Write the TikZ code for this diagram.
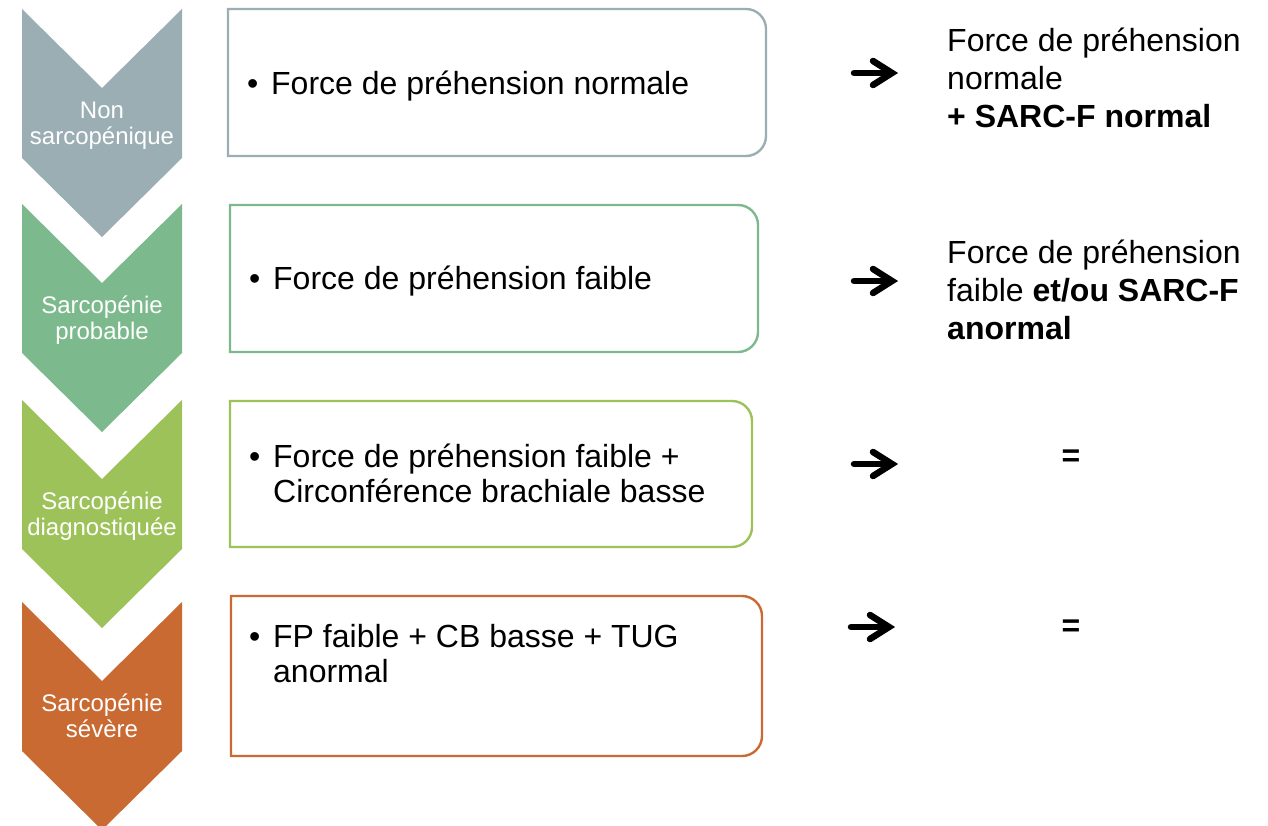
\documentclass[tikz,border=0pt]{standalone}
\usepackage{fontspec}
\setmainfont{Liberation Sans}
\definecolor{cgray}{HTML}{9BAEB4}
\definecolor{cgreen}{HTML}{7CB98C}
\definecolor{clime}{HTML}{9DC25A}
\definecolor{corange}{HTML}{C96A33}
\begin{document}
\begin{tikzpicture}[x=1pt,y=1pt,
  chevlabel/.style={text=white,align=center,inner sep=0pt,
    font=\fontsize{24}{26}\selectfont},
  boxtext/.style={anchor=base west,inner sep=0pt,
    font=\fontsize{32}{35}\selectfont},
  sidetext/.style={anchor=base west,inner sep=0pt,
    font=\fontsize{32}{38}\selectfont},
  eqtext/.style={inner sep=0pt,font=\bfseries\fontsize{32}{35}\selectfont},
  boxline/.style={line width=2.4pt},
  arrw/.style={line width=6.5pt,line cap=round,miter limit=10}]
\useasboundingbox (0,0) rectangle (1268,-826);

% chevrons
\fill[cgray]   (22,-9)   -- (102,-88)  -- (182,-9)   -- (182,-158) -- (102,-237) -- (22,-158) -- cycle;
\fill[cgreen]  (22,-204) -- (102,-283) -- (182,-204) -- (182,-353) -- (102,-432) -- (22,-353) -- cycle;
\fill[clime]   (22,-400) -- (102,-479) -- (182,-400) -- (182,-549) -- (102,-628) -- (22,-549) -- cycle;
\fill[corange] (22,-602) -- (102,-681) -- (182,-602) -- (182,-751) -- (102,-830) -- (22,-751) -- cycle;

\node[chevlabel] (c1) at (102,-126) {Non\\sarcopénique};
\node[chevlabel] (c2) at (102,-320) {Sarcopénie\\probable};
\node[chevlabel] (c3) at (102,-516) {Sarcopénie\\diagnostiquée};
\node[chevlabel] (c4) at (102,-716) {Sarcopénie\\sévère};

% boxes (square left corners, rounded right corners)
\draw[boxline,cgray]   (228,-9)   -- (746,-9)   arc[start angle=90,end angle=0,radius=20] -- (766,-136) arc[start angle=0,end angle=-90,radius=20] -- (228,-156) -- cycle;
\draw[boxline,cgreen]  (230,-205) -- (738,-205) arc[start angle=90,end angle=0,radius=20] -- (758,-332) arc[start angle=0,end angle=-90,radius=20] -- (230,-352) -- cycle;
\draw[boxline,clime]   (230,-401) -- (732,-401) arc[start angle=90,end angle=0,radius=20] -- (752,-527) arc[start angle=0,end angle=-90,radius=20] -- (230,-547) -- cycle;
\draw[boxline,corange] (231,-596) -- (742,-596) arc[start angle=90,end angle=0,radius=20] -- (762,-736) arc[start angle=0,end angle=-90,radius=20] -- (231,-756) -- cycle;

% box texts
\node[boxtext] (b1) at (247,-95) {\vtop{\hsize=520pt\parindent=0pt\rightskip=0pt plus 1fil
  \hangindent=24pt\hangafter=1\makebox[24pt][l]{•}Force de préhension normale\par}};
\node[boxtext] (b2) at (249,-289) {\vtop{\hsize=520pt\parindent=0pt\rightskip=0pt plus 1fil
  \hangindent=24pt\hangafter=1\makebox[24pt][l]{•}Force de préhension faible\par}};
\node[boxtext] (b3) at (249,-467) {\vtop{\hsize=520pt\parindent=0pt\rightskip=0pt plus 1fil
  \hangindent=24pt\hangafter=1\makebox[24pt][l]{•}Force de préhension faible +\newline Circonférence brachiale basse\par}};
\node[boxtext] (b4) at (249,-647) {\vtop{\hsize=520pt\parindent=0pt\rightskip=0pt plus 1fil
  \hangindent=24pt\hangafter=1\makebox[24pt][l]{•}FP faible + CB basse + TUG\newline anormal\par}};

% arrows
\draw[arrw] (854,-73) -- (891,-73);
\draw[arrw] (873,-61) -- (892,-73) -- (873,-85);
\draw[arrw] (854,-281) -- (891,-281);
\draw[arrw] (873,-269) -- (892,-281) -- (873,-293);
\draw[arrw] (854,-464) -- (891,-464);
\draw[arrw] (873,-452) -- (892,-464) -- (873,-476);
\draw[arrw] (851,-627) -- (888,-627);
\draw[arrw] (870,-615) -- (889,-627) -- (870,-639);

% right texts
\node[sidetext] (r1) at (947,-52) {\vtop{\hsize=320pt\parindent=0pt\rightskip=0pt plus 1fil
  Force de préhension\newline normale\newline \textbf{+ SARC-F normal}\par}};
\node[sidetext] (r2) at (947,-264) {\vtop{\hsize=320pt\parindent=0pt\rightskip=0pt plus 1fil
  Force de préhension\newline faible \textbf{et/ou SARC-F}\newline \textbf{anormal}\par}};
\node[eqtext] (e3) at (1071,-458) {=};
\node[eqtext] (e4) at (1071,-628) {=};
\end{tikzpicture}
\end{document}
